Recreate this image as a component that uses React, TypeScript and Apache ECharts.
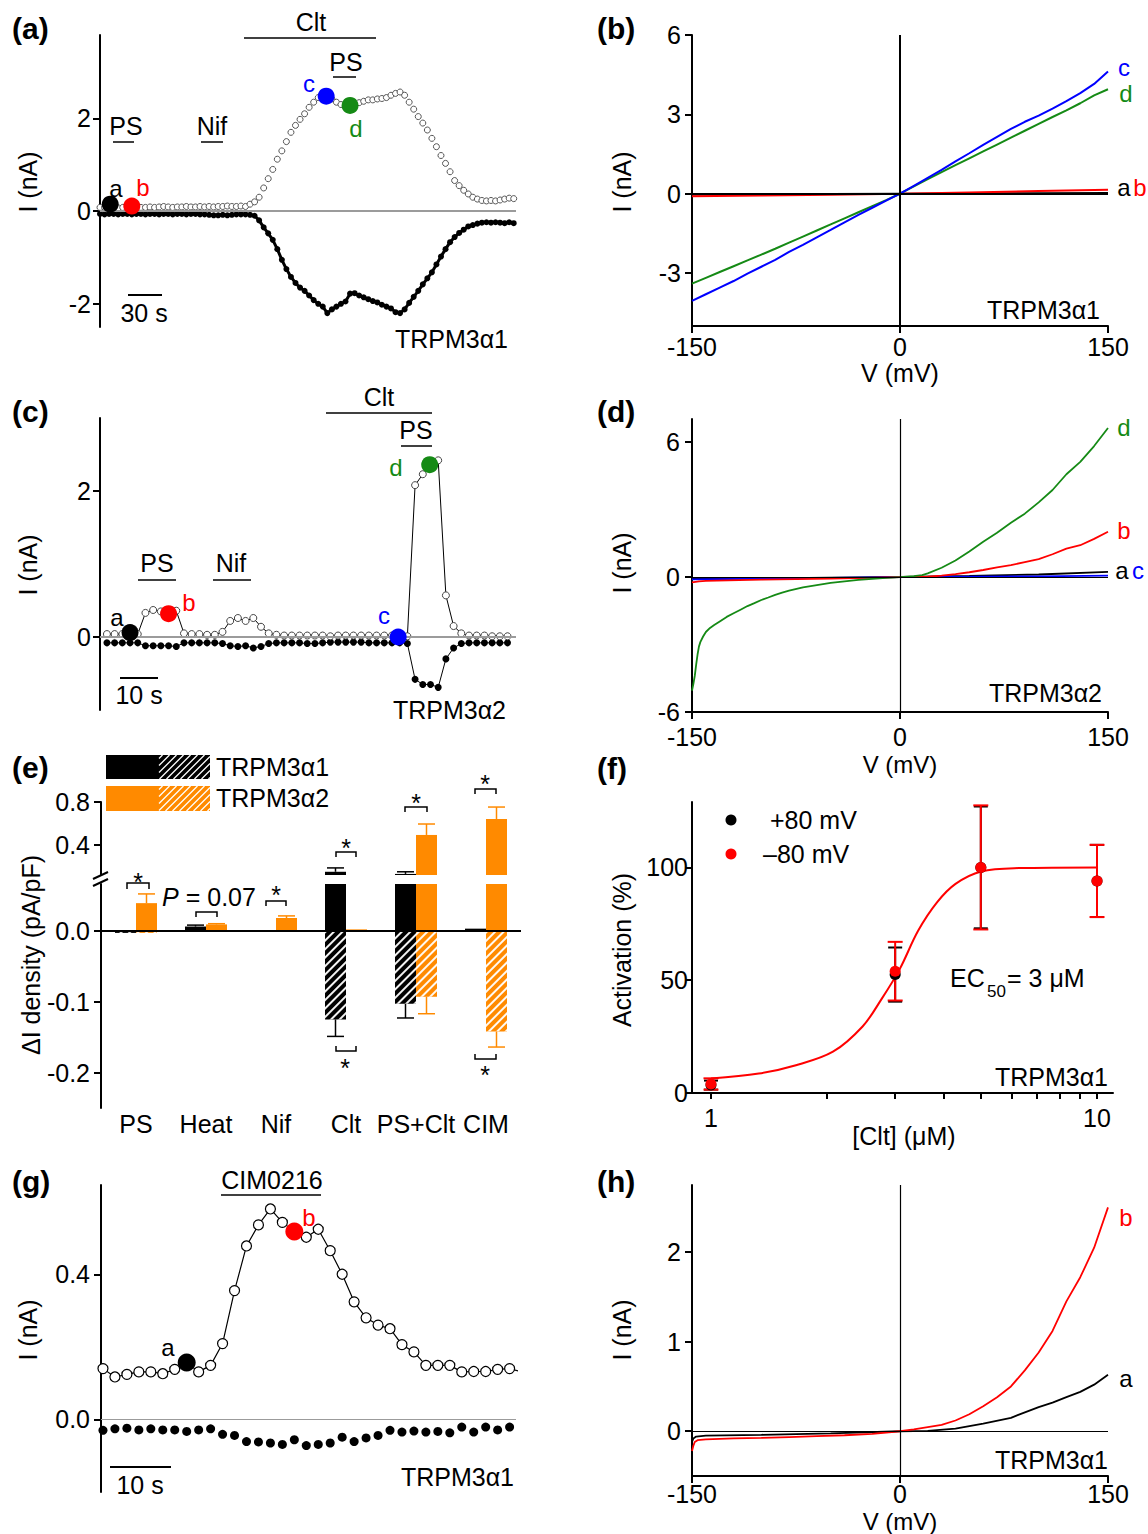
import React, { useEffect, useRef } from "react";
import * as echarts from "echarts";

const FONT = "'Liberation Sans', Arial, Helvetica, sans-serif";
const BLACK = "#000000";
const BLUE = "#0000ff";
const GREEN = "#158a15";
const RED = "#ff0000";
const ORANGE = "#ff8a00";
const GREY = "#9b9b9b";

// (a) TRPM3α1 time course (open: +80 mV, filled: -80 mV), one sample every 4 s
const A_STEP_S = 4;
const A_POS_NA = [0.08,0.08,0.09,0.08,0.07,0.08,0.09,0.08,0.07,0.08,0.08,0.09,0.08,0.09,0.1,0.09,0.08,0.09,0.09,0.1,0.09,0.09,0.1,0.09,0.1,0.09,0.1,0.1,0.11,0.1,0.1,0.11,
  0.1,0.15,0.2,0.3,0.5,0.7,0.9,1.12,1.3,1.5,
  1.7,1.85,1.98,2.1,2.24,2.35,2.45,2.5,2.48,2.42,
  2.35,2.3,2.28,2.27,2.3,2.34,2.37,2.4,2.4,2.42,
  2.43,2.45,2.5,2.54,2.57,2.5,2.35,2.2,2.04,1.9,
  1.75,1.57,1.39,1.2,1.03,0.85,0.66,0.55,0.45,0.37,
  0.3,0.26,0.23,0.22,0.23,0.22,0.24,0.26,0.28,0.27];
const A_NEG_NA = [-0.06,-0.07,-0.06,-0.06,-0.07,-0.06,-0.06,-0.07,-0.06,-0.06,-0.07,-0.06,-0.06,-0.07,-0.06,-0.06,-0.07,-0.06,-0.06,-0.07,-0.06,-0.06,-0.07,-0.07,-0.08,-0.09,-0.09,-0.08,-0.09,-0.08,-0.07,-0.07,
  -0.07,-0.08,-0.1,-0.2,-0.35,-0.48,-0.62,-0.82,-1.05,-1.25,
  -1.42,-1.55,-1.65,-1.72,-1.82,-1.92,-2.0,-2.06,-2.2,-2.12,
  -2.06,-2.0,-1.95,-1.78,-1.77,-1.82,-1.86,-1.9,-1.94,-1.97,
  -2.02,-2.06,-2.1,-2.18,-2.2,-2.12,-1.98,-1.85,-1.72,-1.58,
  -1.45,-1.32,-1.15,-0.98,-0.82,-0.67,-0.56,-0.47,-0.4,-0.33,
  -0.3,-0.27,-0.25,-0.24,-0.25,-0.24,-0.25,-0.26,-0.24,-0.26];
const A_MARK_T = [9, 28, 199, 220];
const A_MARK_I = [0.15, 0.11, 2.48, 2.28];
const A_MARK_COLORS = [BLACK, RED, BLUE, GREEN];

// (b) TRPM3α1 I-V curves
const B_V = [-150,-140,-130,-120,-110,-100,-90,-80,-70,-60,-50,-40,-30,-20,-10,0,10,20,30,40,50,60,70,80,90,100,110,120,130,140,150];
const B_C = [-4.05,-3.8,-3.55,-3.3,-3.02,-2.76,-2.5,-2.2,-1.93,-1.65,-1.37,-1.08,-0.8,-0.53,-0.26,0,0.3,0.6,0.9,1.22,1.53,1.85,2.15,2.45,2.72,2.95,3.22,3.5,3.8,4.15,4.62];
const B_D = [-3.4,-3.18,-2.96,-2.74,-2.52,-2.3,-2.08,-1.85,-1.62,-1.39,-1.16,-0.93,-0.7,-0.47,-0.24,0,0.28,0.55,0.82,1.08,1.34,1.6,1.86,2.12,2.38,2.64,2.9,3.15,3.42,3.72,3.95];
const B_AB_V = [-150,-100,-50,0,50,100,150];
const B_A = [-0.03,-0.02,-0.01,0,0.01,0.02,0.03];
const B_B = [-0.1,-0.07,-0.04,0,0.05,0.1,0.15];

// (c) TRPM3α2 time course, one sample every 2 s
const C_STEP_S = 2;
const C_POS_NA = [0.04,0.04,0.04,0.05,0.04, 0.33,0.37,0.35,0.33,0.36,
  0.05,0.04,0.04,0.03,0.03,0.07,0.22,0.26,0.22,0.26,0.14,0.05,0.03,0.02,
  0.02,0.02,0.02,0.02,0.02,0.01,0.02,0.02,0.02,0.02,0.02,0.02,0.02,0.02,
  0.0,0.01,2.08,2.23,2.36,2.42,0.57,0.15,0.05,0.02,0.02,0.02,0.01,0.01,0.01];
const C_NEG_NA = [-0.08,-0.08,-0.08,-0.08,-0.08, -0.12,-0.12,-0.12,-0.12,-0.13,
  -0.08,-0.08,-0.08,-0.08,-0.08,-0.09, -0.12,-0.13,-0.12,-0.15,-0.13,-0.09,
  -0.08,-0.08,-0.08,-0.08,-0.09,-0.09,-0.08,-0.07,-0.07,-0.07,-0.07,-0.07,-0.08,-0.08,-0.08,-0.08,-0.08,
  -0.09, -0.58,-0.65,-0.65,-0.69,-0.3,-0.15,
  -0.09,-0.08,-0.08,-0.08,-0.08,-0.08,-0.08];
const C_MARK_T = [6, 16, 75.6, 83.8];
const C_MARK_I = [0.06, 0.32, 0.0, 2.36];
const C_MARK_COLORS = [BLACK, RED, BLUE, GREEN];

// (d) TRPM3α2 I-V curves
const D_D_V = [-150,-149,-148,-147,-146,-145,-144,-142,-140,-137,-134,-130,-125,-120,-115,-110,-105,-100,-95,-90,-85,-80,-70,-60,-50,-40,-30,-20,-10,0,10,16,20,30,40,50,60,70,80,90,100,110,120,130,140,150];
const D_D = [-5.05,-4.75,-4.4,-3.9,-3.45,-3.1,-2.9,-2.65,-2.45,-2.27,-2.14,-1.98,-1.78,-1.62,-1.46,-1.3,-1.17,-1.03,-0.92,-0.8,-0.7,-0.62,-0.47,-0.37,-0.27,-0.2,-0.14,-0.09,-0.05,-0.02,0.03,0.07,0.15,0.4,0.72,1.12,1.55,1.95,2.4,2.8,3.3,3.85,4.55,5.1,5.8,6.6];
const D_B_V = [-150,-145,-140,-100,-50,0,20,30,40,50,60,70,80,90,100,110,120,130,140,150];
const D_B = [-0.25,-0.2,-0.18,-0.13,-0.08,-0.02,0,0.05,0.12,0.2,0.3,0.42,0.52,0.65,0.78,1.0,1.25,1.4,1.68,2.0];
const D_AC_V = [-150,-100,-50,0,50,100,150];
const D_A = [-0.1,-0.07,-0.04,-0.01,0.04,0.1,0.22];
const D_C = [-0.12,-0.08,-0.05,-0.02,0,0.02,0.05];

// (e) ΔI density (pA/pF); solid = +80 mV, hatched = -80 mV
const E_CATS = ["PS", "Heat", "Nif", "Clt", "PS+Clt", "CIM"];
const E_A1_POS = [null, 0.006, null, 0.15, 0.13, 0.003];
const E_A1_POS_ERR = [0, 0.002, 0, 0.036, 0.02, 0];
const E_A1_NEG = [-0.003, null, null, -0.125, -0.103, null];
const E_A1_NEG_ERR = [0, 0, 0, 0.024, 0.02, 0];
const E_A2_POS = [0.039, 0.009, 0.018, 0.002, 0.493, 0.642];
const E_A2_POS_ERR = [0.013, 0.001, 0.003, 0, 0.102, 0.111];
const E_A2_NEG = [-0.003, null, null, null, -0.093, -0.142];
const E_A2_NEG_ERR = [0, 0, 0, 0, 0.024, 0.022];

// (f) Clt dose response
const F_CONC = [1, 3, 5, 10];
const F_POS = [3.5, 52.5, 100, 94];
const F_POS_ERR = [2, 12, 27, 16];
const F_NEG = [4, 54, 100, 94];
const F_NEG_ERR = [2.5, 13, 27.5, 16];
const F_FIT_X = [1, 1.33, 1.66, 2.07, 2.47, 2.76, 3.08, 3.44, 3.85, 4.3, 5.01, 6.25, 10];
const F_FIT_Y = [6.4, 8.6, 12.3, 18.3, 29.5, 41.4, 54.8, 71.9, 84.5, 92.7, 98.2, 99.7, 100];

// (g) CIM0216 time course, one sample every 2 s
const G_STEP_S = 2;
const G_POS_NA = [0.14,0.117,0.124,0.131,0.131,0.126,0.138,0.157,0.131,0.149,0.209,0.355,0.478,0.536,0.58,0.543,0.518,0.502,0.524,0.465,0.4,0.324,0.28,0.26,0.25,0.206,0.186,0.149,0.149,0.149,0.131,0.132,0.132,0.138,0.14,0.131];
const G_NEG_NA = [-0.03,-0.026,-0.024,-0.029,-0.026,-0.029,-0.029,-0.033,-0.029,-0.026,-0.041,-0.044,-0.061,-0.062,-0.065,-0.069,-0.056,-0.072,-0.069,-0.065,-0.049,-0.061,-0.051,-0.044,-0.03,-0.035,-0.032,-0.035,-0.033,-0.037,-0.021,-0.035,-0.021,-0.029,-0.021,-0.024];
const G_MARK_T = [14, 32];
const G_MARK_I = [0.157, 0.518];
const G_MARK_COLORS = [BLACK, RED];

// (h) TRPM3α1 I-V curves with CIM0216
const H_B_V = [-150,-149,-148,-146,-140,-120,-100,-80,-60,-40,-20,0,10,20,30,40,50,60,70,80,90,100,110,120,130,140,150];
const H_B = [-0.22,-0.16,-0.12,-0.1,-0.09,-0.08,-0.075,-0.065,-0.055,-0.045,-0.03,0,0.02,0.045,0.07,0.12,0.19,0.28,0.38,0.5,0.68,0.88,1.12,1.45,1.72,2.05,2.5];
const H_A_V = [-150,-149,-147,-140,-100,-50,0,20,40,60,80,100,110,120,130,140,150];
const H_A = [-0.12,-0.08,-0.06,-0.05,-0.04,-0.025,0,0.005,0.03,0.085,0.15,0.27,0.32,0.38,0.44,0.52,0.63];

const pairs = (xs: number[], ys: number[]) => xs.map((x, i) => [x, ys[i]]);
const timed = (ys: number[], step: number) => ys.map((y, i) => [i * step, y]);
const marks = (ts: number[], vs: number[], cs: string[]) =>
  ts.map((t, i) => ({ value: [t, vs[i]], itemStyle: { color: cs[i], opacity: 1, borderWidth: 0 } }));

function txt(text: string, x: number, y: number, o: any = {}) {
  const size = o.size || 25;
  const style: any = {
    text, fill: o.color || "#000", fontSize: size, fontFamily: FONT,
    fontWeight: o.bold ? "bold" : "normal", fontStyle: o.italic ? "italic" : "normal",
    align: o.align || "center", verticalAlign: "middle",
  };
  if (o.rich) style.rich = o.rich;
  return { type: "text", x, y, rotation: o.rot || 0, silent: true, z: 100, style };
}
function seg(x1: number, y1: number, x2: number, y2: number, color = "#000", w = 2) {
  return { type: "line", silent: true, z: 100, shape: { x1, y1, x2, y2 }, style: { stroke: color, lineWidth: w } };
}
function bracket(x1: number, x2: number, y: number, dy: number) {
  return {
    type: "polyline", silent: true, z: 100,
    shape: { points: [[x1, y + dy], [x1, y], [x2, y], [x2, y + dy]] },
    style: { stroke: "#000", lineWidth: 1.5, fill: null },
  };
}
function hatchRect(x0: number, y0: number, w: number, h: number, color: string, step: number) {
  const out: any[] = [{ type: "rect", silent: true, z: 100, shape: { x: x0, y: y0, width: w, height: h }, style: { fill: color } }];
  for (let c = x0 + y0 + step / 2; c < x0 + w + y0 + h; c += step) {
    const xa = Math.max(x0, c - (y0 + h));
    const xb = Math.min(x0 + w, c - y0);
    if (xb > xa) out.push(seg(xa, c - xa, xb, c - xb, "#fff", 1.3));
  }
  return out;
}

const GRIDS = [
  { left: 100, top: 35, width: 416, height: 292 },   // a
  { left: 692, top: 35, width: 416, height: 291 },   // b
  { left: 100, top: 418, width: 416, height: 292 },  // c
  { left: 692, top: 419, width: 416, height: 293 },  // d
  { left: 101, top: 802, width: 420, height: 73 },   // e upper
  { left: 101, top: 884, width: 420, height: 224 },  // e lower
  { left: 692, top: 802, width: 421, height: 291 },  // f
  { left: 101, top: 1185, width: 415, height: 307 }, // g
  { left: 692, top: 1185, width: 416, height: 291 }, // h
];

function axis(gridIndex: number, min: number, max: number, ticks: number[] | null, o: any = {}) {
  const label: any = {
    show: !!ticks, color: "#000", fontSize: o.fontSize ?? 25, fontFamily: FONT, margin: o.margin ?? 8,
  };
  if (ticks) label.customValues = ticks;
  if (o.fmt) label.formatter = o.fmt;
  const tick: any = {
    show: !!ticks, inside: false, length: o.tickLen ?? 7,
    lineStyle: { color: "#000", width: 2 },
  };
  if (o.tickValues || ticks) tick.customValues = o.tickValues || ticks;
  const a: any = {
    type: o.type || "value", gridIndex, min, max, show: o.show !== false,
    axisLine: { show: o.line !== false, onZero: false, lineStyle: { color: "#000", width: 2 } },
    axisTick: tick, axisLabel: label,
    splitLine: { show: false }, splitArea: { show: false }, minorTick: { show: false },
  };
  if (o.type === "log") a.logBase = 10;
  return a;
}

const refLines = (color: string, width: number, data: any[]) => ({
  silent: true, symbol: ["none", "none"], label: { show: false },
  lineStyle: { color, width, type: "solid" }, data, animation: false,
});

const fmt1 = (v: number) => v.toFixed(1);

function buildOption() {
  const xAxis = [
    axis(0, 0, 366, null, { show: false }),
    axis(1, -150, 150, [-150, 0, 150], { margin: 8 }),
    axis(2, -1.8, 106.2, null, { show: false }),
    axis(3, -150, 150, [-150, 0, 150], { margin: 12 }),
    { type: "category", gridIndex: 4, data: E_CATS, show: false },
    {
      type: "category", gridIndex: 5, data: E_CATS,
      axisLine: { show: false, onZero: false }, axisTick: { show: false },
      axisLabel: { color: "#000", fontSize: 25, fontFamily: FONT, margin: 3, interval: 0 },
    },
    axis(6, 0.893, 11, [1, 10], { type: "log", tickValues: [1, 2, 3, 4, 5, 6, 7, 8, 9, 10], margin: 12, tickLen: 6 }),
    axis(7, -0.33, 69.07, null, { show: false }),
    axis(8, -150, 150, [-150, 0, 150], { margin: 5 }),
  ];
  const yAxis = [
    axis(0, -2.5, 3.8, [-2, 0, 2], { margin: 9 }),
    axis(1, -5, 6, [-3, 0, 3, 6], { margin: 11 }),
    axis(2, -1, 3, [0, 2], { margin: 9 }),
    axis(3, -6, 7, [-6, 0, 6], { margin: 12 }),
    axis(4, 0.12, 0.8, [0.4, 0.8], { margin: 11, fmt: fmt1 }),
    axis(5, -0.25, 0.066, [-0.2, -0.1, 0], { margin: 11, fmt: fmt1 }),
    axis(6, 0, 129, [0, 50, 100], { margin: 4, tickLen: 6 }),
    axis(7, -0.2, 0.646, [0, 0.4], { margin: 11, fmt: fmt1 }),
    axis(8, -0.5, 2.75, [0, 1, 2], { margin: 11 }),
  ];

  const S: any[] = [];
  const on = (g: number) => ({ xAxisIndex: g, yAxisIndex: g, silent: true });
  const trace = (g: number, data: any[], color: string, width: number, z = 3) => ({
    type: "line", ...on(g), data, showSymbol: false, symbol: "none",
    lineStyle: { color, width }, itemStyle: { color }, z,
  });
  const solid = (color: string) => ({ color, opacity: 1, borderWidth: 0 });

  // (a)
  S.push({ type: "line", ...on(0), data: [], markLine: refLines(GREY, 2, [{ yAxis: 0 }]), z: 1 });
  S.push({
    type: "line", ...on(0), data: timed(A_NEG_NA, A_STEP_S), symbol: "circle", symbolSize: 6, showSymbol: true,
    itemStyle: solid("#000"), lineStyle: { color: "#000", width: 3 }, z: 3,
  });
  S.push({
    type: "scatter", ...on(0), data: timed(A_POS_NA, A_STEP_S), symbolSize: 6,
    itemStyle: { color: "#fff", borderColor: "#555", borderWidth: 1, opacity: 1 }, z: 4,
  });
  S.push({ type: "scatter", ...on(0), data: marks(A_MARK_T, A_MARK_I, A_MARK_COLORS), symbolSize: 17, z: 5 });

  // (b)
  S.push({ type: "line", ...on(1), data: [], markLine: refLines("#000", 2, [{ yAxis: 0 }, { xAxis: 0 }]), z: 1 });
  S.push(trace(1, pairs(B_AB_V, B_A), BLACK, 2));
  S.push(trace(1, pairs(B_AB_V, B_B), RED, 2));
  S.push(trace(1, pairs(B_V, B_D), GREEN, 2));
  S.push(trace(1, pairs(B_V, B_C), BLUE, 2));

  // (c)
  S.push({ type: "line", ...on(2), data: [], markLine: refLines(GREY, 2, [{ yAxis: 0 }]), z: 1 });
  S.push({
    type: "line", ...on(2), data: timed(C_NEG_NA, C_STEP_S), symbol: "circle", symbolSize: 7, showSymbol: true,
    itemStyle: solid("#000"), lineStyle: { color: "#000", width: 1 }, z: 3,
  });
  S.push({
    type: "line", ...on(2), data: timed(C_POS_NA, C_STEP_S), symbol: "circle", symbolSize: 7, showSymbol: true,
    itemStyle: { color: "#fff", borderColor: "#444", borderWidth: 1, opacity: 1 }, lineStyle: { color: "#000", width: 1 }, z: 4,
  });
  S.push({ type: "scatter", ...on(2), data: marks(C_MARK_T, C_MARK_I, C_MARK_COLORS), symbolSize: 17, z: 5 });

  // (d)
  S.push({ type: "line", ...on(3), data: [], markLine: refLines("#000", 1.2, [{ yAxis: 0 }, { xAxis: 0 }]), z: 1 });
  S.push(trace(3, pairs(D_AC_V, D_A), BLACK, 1.8));
  S.push(trace(3, pairs(D_AC_V, D_C), BLUE, 1.8));
  S.push(trace(3, pairs(D_B_V, D_B), RED, 1.8));
  S.push(trace(3, pairs(D_D_V, D_D), GREEN, 1.8));

  // (e) broken axis: same data in an upper and a lower grid, clipped
  const decal = {
    symbol: "rect", symbolSize: 1, color: "rgba(255,255,255,0.95)",
    dashArrayX: [1, 0], dashArrayY: [1.3, 3.7], rotation: -Math.PI / 4,
  };
  const errData = (vals: (number | null)[], errs: number[], sign: number) =>
    vals.map((v, i) => (v === null || !errs[i] ? null : [i, v, sign * errs[i]])).filter((d) => d !== null);
  const barErr = (g: number, data: any[], color: string, offset: number) => ({
    type: "custom", ...on(g), clip: true, z: 5, data,
    renderItem: (_p: any, api: any) => {
      const c = api.value(0), v = api.value(1), e = api.value(2);
      const p0 = api.coord([c, v]);
      const p1 = api.coord([c, v + e]);
      const x = p0[0] + offset;
      return {
        type: "group",
        children: [
          { type: "line", shape: { x1: x, y1: p0[1], x2: x, y2: p1[1] }, style: { stroke: color, lineWidth: 1.5 } },
          { type: "line", shape: { x1: x - 8.5, y1: p1[1], x2: x + 8.5, y2: p1[1] }, style: { stroke: color, lineWidth: 1.5 } },
        ],
      };
    },
  });
  for (const g of [4, 5]) {
    S.push({ type: "bar", ...on(g), stack: "a1_" + g, data: E_A1_POS, barWidth: 21, barGap: "0%", itemStyle: solid(BLACK), z: 3 });
    S.push({ type: "bar", ...on(g), stack: "a1_" + g, data: E_A1_NEG, barWidth: 21, barGap: "0%", itemStyle: { ...solid(BLACK), decal }, z: 3 });
    S.push({ type: "bar", ...on(g), stack: "a2_" + g, data: E_A2_POS, barWidth: 21, barGap: "0%", itemStyle: solid(ORANGE), z: 3 });
    S.push({ type: "bar", ...on(g), stack: "a2_" + g, data: E_A2_NEG, barWidth: 21, barGap: "0%", itemStyle: { ...solid(ORANGE), decal }, z: 3 });
    S.push(barErr(g, [...errData(E_A1_POS, E_A1_POS_ERR, 1), ...errData(E_A1_NEG, E_A1_NEG_ERR, -1)], BLACK, -10.5));
    S.push(barErr(g, [...errData(E_A2_POS, E_A2_POS_ERR, 1), ...errData(E_A2_NEG, E_A2_NEG_ERR, -1)], ORANGE, 10.5));
  }
  S.push({ type: "line", ...on(5), data: [], markLine: refLines("#000", 2, [{ yAxis: 0 }]), z: 6 });

  // (f)
  const symErr = (data: any[], color: string, cap: number) => ({
    type: "custom", ...on(6), data, z: 4,
    renderItem: (_p: any, api: any) => {
      const x = api.value(0), y = api.value(1), e = api.value(2);
      const lo = api.coord([x, y - e]);
      const hi = api.coord([x, y + e]);
      const st = { stroke: color, lineWidth: 2 };
      return {
        type: "group",
        children: [
          { type: "line", shape: { x1: lo[0], y1: lo[1], x2: hi[0], y2: hi[1] }, style: st },
          { type: "line", shape: { x1: lo[0] - cap, y1: lo[1], x2: lo[0] + cap, y2: lo[1] }, style: st },
          { type: "line", shape: { x1: hi[0] - cap, y1: hi[1], x2: hi[0] + cap, y2: hi[1] }, style: st },
        ],
      };
    },
  });
  S.push({ ...trace(6, pairs(F_FIT_X, F_FIT_Y), RED, 2, 3), smooth: 0.35 });
  S.push(symErr(F_CONC.map((c, i) => [c, F_POS[i], F_POS_ERR[i]]), BLACK, 7));
  S.push(symErr(F_CONC.map((c, i) => [c, F_NEG[i], F_NEG_ERR[i]]), RED, 7.5));
  S.push({ type: "scatter", ...on(6), data: pairs(F_CONC, F_POS), symbolSize: 11, itemStyle: solid(BLACK), z: 5 });
  S.push({ type: "scatter", ...on(6), data: pairs(F_CONC, F_NEG), symbolSize: 11, itemStyle: solid(RED), z: 6 });

  // (g)
  S.push({ type: "line", ...on(7), data: [], markLine: refLines(GREY, 1.2, [{ yAxis: 0 }]), z: 1 });
  S.push({
    type: "line", ...on(7), data: timed(G_POS_NA, G_STEP_S), symbol: "circle", symbolSize: 10, showSymbol: true,
    itemStyle: { color: "#fff", borderColor: "#000", borderWidth: 1.2, opacity: 1 }, lineStyle: { color: "#000", width: 1.2 }, z: 3,
  });
  S.push({ type: "scatter", ...on(7), data: timed(G_NEG_NA, G_STEP_S), symbolSize: 9, itemStyle: solid("#000"), z: 3 });
  S.push({ type: "scatter", ...on(7), data: marks(G_MARK_T, G_MARK_I, G_MARK_COLORS), symbolSize: 18, z: 5 });

  // (h)
  S.push({ type: "line", ...on(8), data: [], markLine: refLines("#000", 1.2, [{ yAxis: 0 }, { xAxis: 0 }]), z: 1 });
  S.push(trace(8, pairs(H_A_V, H_A), BLACK, 1.8));
  S.push(trace(8, pairs(H_B_V, H_B), RED, 1.8));

  const rot = Math.PI / 2;
  const G: any[] = [
    // panel letters
    txt("(a)", 12, 28, { bold: true, size: 30, align: "left" }),
    txt("(b)", 597, 28, { bold: true, size: 30, align: "left" }),
    txt("(c)", 12, 411, { bold: true, size: 30, align: "left" }),
    txt("(d)", 597, 411, { bold: true, size: 30, align: "left" }),
    txt("(e)", 12, 767, { bold: true, size: 30, align: "left" }),
    txt("(f)", 597, 768, { bold: true, size: 30, align: "left" }),
    txt("(g)", 12, 1181, { bold: true, size: 30, align: "left" }),
    txt("(h)", 597, 1181, { bold: true, size: 30, align: "left" }),

    // (a)
    txt("Clt", 311, 22), seg(244, 38, 376, 38, "#000", 1.5),
    txt("PS", 346, 62), seg(333, 77, 356, 77, "#000", 1.5),
    txt("PS", 126, 126), seg(113, 142, 134, 142, "#000", 1.5),
    txt("Nif", 212, 126), seg(201, 142, 223, 142, "#000", 1.5),
    txt("a", 116, 188, { size: 24 }), txt("b", 143, 187, { size: 24, color: RED }),
    txt("c", 309, 83, { size: 24, color: BLUE }), txt("d", 356, 128, { size: 24, color: GREEN }),
    seg(128, 295, 162, 295, "#000", 2), txt("30 s", 144, 313),
    txt("TRPM3α1", 508, 339, { align: "right" }),
    txt("I (nA)", 28, 182, { rot }),

    // (b)
    txt("c", 1124, 67, { size: 24, color: BLUE }), txt("d", 1126, 93, { size: 24, color: GREEN }),
    txt("a", 1124, 187, { size: 24 }), txt("b", 1140, 187, { size: 24, color: RED }),
    txt("TRPM3α1", 1100, 310, { align: "right" }),
    txt("I (nA)", 622, 182, { rot }),
    txt("V (mV)", 900, 373),

    // (c)
    txt("Clt", 379, 397), seg(326, 413, 432, 413, "#000", 1.5),
    txt("PS", 416, 430), seg(401, 446, 432, 446, "#000", 1.5),
    txt("PS", 157, 563), seg(138, 580, 176, 580, "#000", 1.5),
    txt("Nif", 231, 563), seg(213, 580, 251, 580, "#000", 1.5),
    txt("a", 117, 617, { size: 24 }), txt("b", 189, 602, { size: 24, color: RED }),
    txt("c", 384, 615, { size: 24, color: BLUE }), txt("d", 396, 467, { size: 24, color: GREEN }),
    seg(120, 678, 158, 678, "#000", 2), txt("10 s", 139, 695),
    txt("TRPM3α2", 506, 710, { align: "right" }),
    txt("I (nA)", 28, 565, { rot }),

    // (d)
    txt("d", 1124, 427, { size: 24, color: GREEN }), txt("b", 1124, 530, { size: 24, color: RED }),
    txt("a", 1122, 570, { size: 24 }), txt("c", 1138, 570, { size: 24, color: BLUE }),
    txt("TRPM3α2", 1102, 693, { align: "right" }),
    txt("I (nA)", 622, 563, { rot }),
    txt("V (mV)", 900, 764, { size: 24 }),

    // (e)
    { type: "rect", silent: true, z: 100, shape: { x: 106, y: 755, width: 53, height: 24 }, style: { fill: BLACK } },
    ...hatchRect(159, 755, 51, 24, BLACK, 7),
    { type: "rect", silent: true, z: 100, shape: { x: 106, y: 786, width: 53, height: 25 }, style: { fill: ORANGE } },
    ...hatchRect(159, 786, 51, 25, ORANGE, 7),
    txt("TRPM3α1", 216, 767, { align: "left" }),
    txt("TRPM3α2", 216, 798, { align: "left" }),
    bracket(127, 149, 883, 6), txt("*", 138, 882),
    bracket(196, 217, 912, 5),
    txt("{i|P} = 0.07", 209, 897, { rich: { i: { fontStyle: "italic", fontSize: 25, fontFamily: FONT, fill: "#000" } } }),
    bracket(266, 286, 901, 5), txt("*", 276, 895),
    bracket(336, 356, 852, 5), txt("*", 346, 848),
    bracket(336, 356, 1051, -5), txt("*", 345, 1068),
    bracket(405, 427, 807, 5), txt("*", 416, 803),
    bracket(475, 496, 789, 5), txt("*", 485, 784),
    bracket(475, 496, 1059, -5), txt("*", 485, 1075),
    seg(93, 879, 108, 872, "#000", 2), seg(93, 886, 108, 879, "#000", 2),
    txt("ΔI density (pA/pF)", 31, 955, { rot }),

    // (f)
    { type: "circle", silent: true, z: 100, shape: { cx: 731, cy: 820, r: 5.5 }, style: { fill: BLACK } },
    txt("+80 mV", 770, 820, { align: "left" }),
    { type: "circle", silent: true, z: 100, shape: { cx: 731, cy: 854, r: 5.5 }, style: { fill: RED } },
    txt("–80 mV", 763, 854, { align: "left" }),
    txt("EC", 950, 978, { align: "left" }),
    txt("50", 987, 991, { align: "left", size: 17 }),
    txt("= 3 μM", 1007, 978, { align: "left" }),
    txt("TRPM3α1", 1108, 1077, { align: "right" }),
    txt("[Clt] (μM)", 904, 1136),
    txt("Activation (%)", 622, 950, { rot }),

    // (g)
    txt("CIM0216", 272, 1180), seg(221, 1195, 321, 1195, "#000", 1.5),
    txt("a", 168, 1347, { size: 24 }), txt("b", 309, 1217, { size: 24, color: RED }),
    seg(110, 1467, 171, 1467, "#000", 2), txt("10 s", 140, 1485),
    txt("TRPM3α1", 514, 1477, { align: "right" }),
    txt("I (nA)", 28, 1330, { rot }),

    // (h)
    txt("b", 1126, 1217, { size: 24, color: RED }), txt("a", 1126, 1378, { size: 24 }),
    txt("TRPM3α1", 1108, 1460, { align: "right" }),
    txt("I (nA)", 622, 1330, { rot }),
    txt("V (mV)", 900, 1521, { size: 24 }),
  ];

  return {
    animation: false,
    backgroundColor: "#ffffff",
    textStyle: { fontFamily: FONT },
    grid: GRIDS.map((g) => ({ ...g, containLabel: false, outerBoundsMode: "none", show: false })),
    xAxis, yAxis, series: S,
    graphic: { elements: G },
  };
}

export default function App() {
  const ref = useRef<HTMLDivElement | null>(null);
  useEffect(() => {
    document.body.style.margin = "0";
    if (!ref.current) return;
    const chart = echarts.init(ref.current, undefined, { renderer: "svg" });
    chart.setOption(buildOption() as any);
    return () => chart.dispose();
  }, []);
  return <div ref={ref} style={{ width: 1148, height: 1534, background: "#fff" }} />;
}
